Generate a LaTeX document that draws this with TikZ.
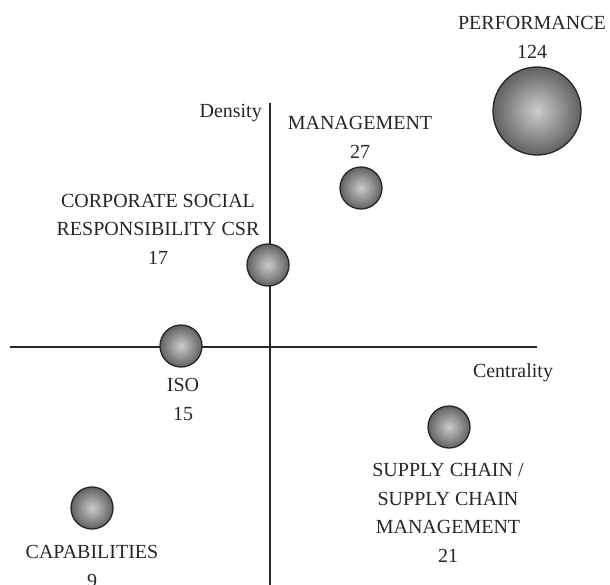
\documentclass[tikz,border=0pt]{standalone}
\usepackage{fontspec}
\setmainfont{Liberation Serif}
\tikzset{
  bolla/.style={circle, draw=black!85, line width=1.3pt, inner color=black!20, outer color=black!62, inner sep=0pt},
  etichetta/.style={font=\fontsize{20}{28.5}\selectfont, text=black!85, align=center, inner sep=0pt, anchor=base},
  asse/.style={line width=1.1pt, draw=black!85}
}
\begin{document}
\begin{tikzpicture}[x=1pt, y=-1pt]
        \useasboundingbox (0,0) rectangle (610,584);

        %%%%%%%%%% Assi %%%%%%%%%%
        \coordinate (xsx) at (10,347);
        \coordinate (xdx) at (537,347);
        \coordinate (ysu) at (270,103);
        \coordinate (ygiu) at (270,590);
        \draw[asse] (xsx) -- (xdx);
        \draw[asse] (ysu) -- (ygiu);
        \node[etichetta, anchor=base east] (density) at (262,117) {Density};
        \node[etichetta] (centrality) at (513,377) {Centrality};

        %%%%%%%%%% Bolle %%%%%%%%%%
        \node[bolla, minimum size=88pt] (performance) at (537,111) {};
        \node[bolla, minimum size=42pt] (management) at (361,188) {};
        \node[bolla, minimum size=42pt] (csr) at (268,265) {};
        \node[bolla, minimum size=42pt] (iso) at (181,346) {};
        \node[bolla, minimum size=42pt] (scm) at (449,427) {};
        \node[bolla, minimum size=42pt] (capabilities) at (92,508) {};

        %%%%%%%%%% Etichette (ancorate all'ultima riga) %%%%%%%%%%
        \node[etichetta] (lperformance) at (532,58) {PERFORMANCE\\124};
        \node[etichetta] (lmanagement) at (360,158) {MANAGEMENT\\27};
        \node[etichetta] (lcsr) at (158,264) {CORPORATE SOCIAL\\RESPONSIBILITY CSR\\17};
        \node[etichetta] (liso) at (183,420) {ISO\\15};
        \node[etichetta] (lscm) at (448,562) {SUPPLY CHAIN /\\SUPPLY CHAIN\\MANAGEMENT\\21};
        \node[etichetta] (lcapabilities) at (92,587) {CAPABILITIES\\9};
    \end{tikzpicture}
\end{document}
